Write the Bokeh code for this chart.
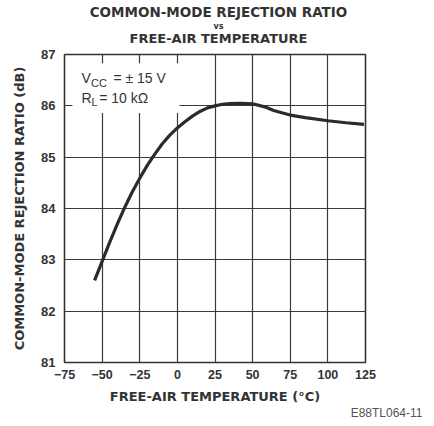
from bokeh.plotting import figure
from bokeh.models import Label, FixedTicker, Range1d
from bokeh.layouts import column
from bokeh.embed import file_html
from bokeh.resources import INLINE

# ---- data ----
temps = [-55, -50, -45, -40, -35, -30, -25, -20, -15, -10, -5, 0, 5, 10, 15, 20,
         25, 30, 35, 42, 50, 58, 64, 70, 75, 85, 100, 112, 124]
cmrr = [82.6, 82.97, 83.34, 83.69, 84.02, 84.32, 84.59, 84.84, 85.06, 85.26, 85.43,
        85.57, 85.69, 85.80, 85.89, 85.96, 86.0, 86.03, 86.045, 86.05, 86.04,
        85.98, 85.91, 85.86, 85.82, 85.77, 85.71, 85.67, 85.64]
x_ticks = [-75, -50, -25, 0, 25, 50, 75, 100, 125]
x_tick_labels = ["\u221275", "\u221250", "\u221225", "0", "25", "50", "75", "100", "125"]
y_ticks = [81, 82, 83, 84, 85, 86, 87]
title_lines = ["COMMON-MODE REJECTION RATIO", "vs", "FREE-AIR TEMPERATURE"]
conditions = [("V", "CC", "= \u00b1 15 V"), ("R", "L", "= 10 k\u03a9")]
figure_code = "E88TL064-11"

INK = "#333333"
BOLD = "DejaVu Sans"
W = 434
LEFT = 64  # frames of the stacked figures share this left edge


def bare(height):
    f = figure(width=W, height=height, frame_width=W - LEFT, frame_height=height,
               output_backend="svg", toolbar_location=None,
               x_range=Range1d(LEFT, W), y_range=Range1d(height, 0),
               min_border=0, min_border_left=LEFT, outline_line_color=None)
    f.axis.visible = False
    f.grid.visible = False
    f.background_fill_color = "white"
    f.border_fill_color = "white"
    return f


def lab(fig, x, y, text, size, bold=False, align="left", font="Liberation Sans",
        color=INK):
    fig.add_layout(Label(x=x, y=y, text=text, text_font=font,
                         text_font_size=size, text_align=align,
                         text_baseline="middle", text_color=color,
                         text_font_style="bold" if bold else "normal"))


# ---- header with the three title lines ----
head = bare(48)
lab(head, 218, 11.5, title_lines[0], "13.5px", bold=True, align="center", font=BOLD)
lab(head, 218, 25.5, title_lines[1], "8px", bold=True, align="center", font=BOLD)
lab(head, 218, 37.5, title_lines[2], "13px", bold=True, align="center", font=BOLD)

# ---- main chart ----
p = figure(width=W, height=358, output_backend="svg", toolbar_location=None,
           x_range=Range1d(-75, 125), y_range=Range1d(81, 87),
           min_border_left=LEFT, min_border_right=69, min_border_top=6,
           min_border_bottom=42)
p.background_fill_color = "white"
p.border_fill_color = "white"
p.outline_line_color = INK
p.outline_line_width = 1.6

p.xgrid.ticker = FixedTicker(ticks=x_ticks)
p.ygrid.ticker = FixedTicker(ticks=y_ticks)
for g in (p.xgrid, p.ygrid):
    g.grid_line_color = "#3a3a3a"
    g.grid_line_width = 1.2
    g.grid_line_alpha = 1.0

p.xaxis.ticker = FixedTicker(ticks=x_ticks)
p.yaxis.ticker = FixedTicker(ticks=y_ticks)
p.xaxis.major_label_overrides = {t: s for t, s in zip(x_ticks, x_tick_labels)}
for ax in (p.xaxis, p.yaxis):
    ax.axis_line_color = None
    ax.major_tick_line_color = None
    ax.minor_tick_line_color = None
    ax.major_tick_out = 0
    ax.major_tick_in = 0
    ax.minor_tick_out = 0
    ax.minor_tick_in = 0
    ax.major_label_text_font = "Liberation Sans"
    ax.major_label_text_font_style = "bold"
    ax.major_label_text_color = INK
    ax.axis_label_text_font = BOLD
    ax.axis_label_text_font_style = "bold"
    ax.axis_label_text_color = INK
    ax.axis_label_text_font_size = "13px"
p.xaxis.major_label_text_font_size = "12.5px"
p.yaxis.major_label_text_font_size = "13px"
p.xaxis.major_label_standoff = 7
p.yaxis.major_label_standoff = 9
p.xaxis.axis_label = "FREE-AIR TEMPERATURE (\u00b0C)"
p.yaxis.axis_label = "COMMON-MODE REJECTION RATIO (dB)"
p.xaxis.axis_label_standoff = 7
p.yaxis.axis_label_standoff = 11

# white patch behind the conditions text
p.quad(left=-69.7, right=1.4, bottom=85.86, top=86.83,
       fill_color="white", line_color=None)

# curve
p.line(temps, cmrr, line_color="#2b2b2b", line_width=3.2)

# conditions text
(v1, s1, r1), (v2, s2, r2) = conditions
lab(p, -63.7, 86.535, v1, "14px")
lab(p, -57.4, 86.44, s1, "11px")
lab(p, -42.5, 86.535, r1, "14px")
lab(p, -63.7, 86.15, v2, "14px")
lab(p, -57.1, 86.08, s2, "11px")
lab(p, -51.9, 86.15, r2, "14px")

# ---- footer with the figure code ----
foot = bare(20)
lab(foot, 422, 6.5, figure_code, "12px", align="right", color="#555555")

layout = column(head, p, foot, spacing=0)
open("out.html", "w").write(file_html(layout, INLINE))
